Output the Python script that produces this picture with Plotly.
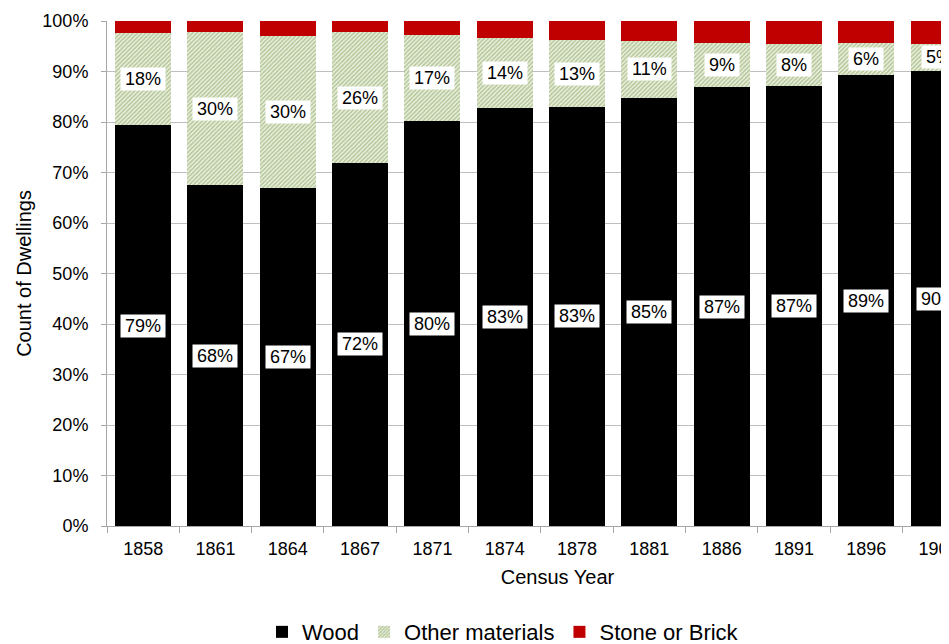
import plotly.graph_objects as go

years = ["1858", "1861", "1864", "1867", "1871", "1874", "1878", "1881", "1886", "1891", "1896", "1901"]
wood = [79.4, 67.5, 66.9, 71.9, 80.2, 82.8, 83.0, 84.8, 86.9, 87.2, 89.3, 90.1]
other = [18.2, 30.3, 30.1, 25.9, 17.0, 13.8, 13.2, 11.2, 8.7, 8.3, 6.3, 5.4]
stone = [round(100 - w - o, 1) for w, o in zip(wood, other)]
y_ticks = [0, 10, 20, 30, 40, 50, 60, 70, 80, 90, 100]

FONT = "Liberation Sans, Arial, sans-serif"

fig = go.Figure()
fig.add_trace(go.Bar(x=years, y=wood, name="Wood", marker=dict(color="#000000", line=dict(width=0))))
fig.add_trace(go.Bar(x=years, y=other, name="Other materials",
                     marker=dict(color="#ffffff", line=dict(width=0),
                                 pattern=dict(shape="/", fgcolor="#779840", bgcolor="#ffffff",
                                              size=3, solidity=0.7, fillmode="overlay"))))
fig.add_trace(go.Bar(x=years, y=stone, name="Stone or Brick", marker=dict(color="#C00000", line=dict(width=0))))

annotations = []
for i in range(len(years)):
    annotations.append(dict(x=i, y=wood[i] / 2, xref="x", yref="y", text=f"{round(wood[i])}%",
                            showarrow=False, bgcolor="#ffffff", borderpad=4, height=14,
                            font=dict(family=FONT, size=18, color="#000000")))
    annotations.append(dict(x=i, y=wood[i] + other[i] / 2, xref="x", yref="y", text=f"{round(other[i])}%",
                            showarrow=False, bgcolor="#ffffff", borderpad=4, height=14,
                            font=dict(family=FONT, size=18, color="#000000")))

fig.update_layout(
    width=1000, height=660,
    barmode="stack", bargap=0.225,
    plot_bgcolor="#ffffff", paper_bgcolor="#ffffff",
    margin=dict(l=99, r=0, t=13, b=142, autoexpand=False),
    font=dict(family=FONT, size=18, color="#000000"),
    annotations=annotations,
    legend=dict(orientation="h", x=0.4395, xanchor="center", y=-0.21, yanchor="middle",
                font=dict(family=FONT, size=22, color="#000000"), traceorder="normal",
                itemwidth=30),
    xaxis=dict(type="category", range=[-0.5, 11.96], automargin=False,
               showline=True, linecolor="#A6A6A6", linewidth=1,
               ticks="outside", tickson="boundaries", ticklen=6, tickcolor="#A6A6A6",
               ticklabelstandoff=6,
               tickfont=dict(family=FONT, size=18),
               title=dict(text="Census Year", font=dict(family=FONT, size=20), standoff=12)),
    yaxis=dict(range=[0, 100], tickvals=y_ticks, ticktext=[f"{v}%" for v in y_ticks], automargin=False,
               showgrid=True, gridcolor="#BFBFBF", gridwidth=1, zeroline=False,
               showline=True, linecolor="#A6A6A6", linewidth=1,
               ticks="outside", ticklen=5, tickcolor="#A6A6A6",
               ticklabelstandoff=9,
               tickfont=dict(family=FONT, size=18),
               title=dict(text="Count of Dwellings", font=dict(family=FONT, size=20), standoff=5)),
)

fig.write_html("out.html")
